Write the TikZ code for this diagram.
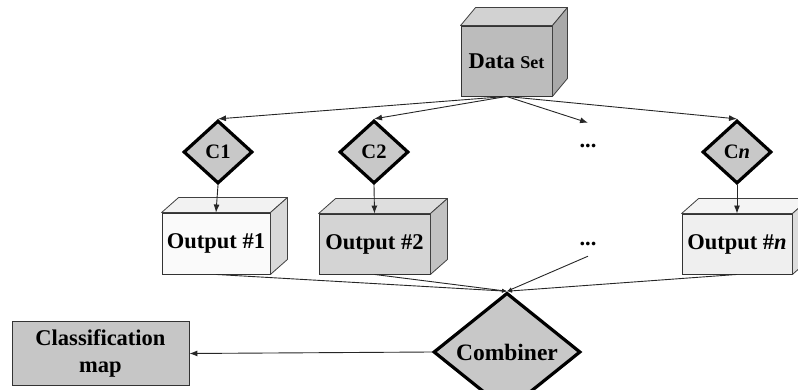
\documentclass[tikz,border=0pt]{standalone}
\usepackage{fontspec}
\setmainfont{Liberation Serif}
\usetikzlibrary{shapes.geometric,arrows.meta}
\definecolor{dsfront}{HTML}{BCBCBC}
\definecolor{dstop}{HTML}{D2D2D2}
\definecolor{dsside}{HTML}{A9A9A9}
\definecolor{oafront}{HTML}{FAFAFA}
\definecolor{oatop}{HTML}{F2F2F2}
\definecolor{oaside}{HTML}{D9D9D9}
\definecolor{obfront}{HTML}{D4D4D4}
\definecolor{obtop}{HTML}{DEDEDE}
\definecolor{obside}{HTML}{C2C2C2}
\definecolor{onfront}{HTML}{EFEFEF}
\definecolor{ontop}{HTML}{F4F4F4}
\definecolor{onside}{HTML}{DDDDDD}
\definecolor{diagray}{HTML}{C8C8C8}
\definecolor{cmgray}{HTML}{C6C6C6}
\newcommand\cubefaces[5]{%
  \draw[facestyle,fill=#4] (#1.north west) -- ([shift={(#2,#3)}]#1.north west) -- ([shift={(#2,#3)}]#1.north east) -- (#1.north east) -- cycle;
  \draw[facestyle,fill=#5] (#1.north east) -- ([shift={(#2,#3)}]#1.north east) -- ([shift={(#2,#3)}]#1.south east) -- (#1.south east) -- cycle;}
\begin{document}
\begin{tikzpicture}[x=1pt,y=-1pt,
  lbl/.style={font=\fontsize{22.5}{27}\selectfont\bfseries},
  front/.style={lbl, draw=black!80, line width=0.9pt, rectangle, inner sep=0pt},
  facestyle/.style={draw=black!75, line width=0.8pt, line join=round},
  dia/.style={font=\fontsize{20.5}{24}\selectfont\bfseries, diamond, draw=black, line width=3.2pt, fill=diagray, inner sep=0pt},
  arr/.style={-{Latex[length=8pt,width=6pt]}, line width=0.9pt, draw=black!85},
  carr/.style={-{Latex[length=5pt,width=4pt]}, line width=0.9pt, draw=black!85},
  dots/.style={lbl, inner sep=0pt}]
\useasboundingbox (0,0) rectangle (798,390);
\clip (0,0) rectangle (798,390);

% Data set cube
\node[front, fill=dsfront, minimum width=91pt, minimum height=70pt] (ds) at (506.5,61) {Data {\fontsize{18}{20}\selectfont Set}};
\cubefaces{ds}{15}{-18}{dstop}{dsside}

% classifiers
\node[dia, minimum width=69pt, minimum height=63pt] (c1) at (218,152) {C1};
\node[dia, minimum width=69pt, minimum height=63pt] (c2) at (374,152) {C2};
\node[dia, minimum width=69pt, minimum height=63pt] (cn) at (737,152) {C\textit{n}};
\node[dots, minimum height=46pt] (d1) at (588,146) {...};

% outputs
\node[front, fill=oafront, minimum width=108pt, minimum height=61pt] (o1) at (216,243.5) {Output \#1};
\cubefaces{o1}{17}{-15}{oatop}{oaside}
\node[front, fill=obfront, minimum width=111pt, minimum height=60pt] (o2) at (374.5,244) {Output \#2};
\cubefaces{o2}{17}{-15}{obtop}{obside}
\node[front, fill=onfront, minimum width=110pt, minimum height=60pt] (on) at (737,244) {Output \#\textit{n}};
\cubefaces{on}{17}{-15}{ontop}{onside}
\node[dots, minimum height=24pt] (d2) at (588,244) {...};

% combiner and map
\node[dia, font=\fontsize{23.5}{27}\selectfont\bfseries, minimum width=147pt, minimum height=71pt] (comb) at (507,352) {Combiner};
\node[front, fill=cmgray, minimum width=177pt, minimum height=64pt, align=center] (cm) at (100.5,353.5) {Classification\\map};

% connectors
\draw[arr] (ds.south) -- (c1.north);
\draw[arr] (ds.south) -- (c2.north);
\draw[arr] (ds.south) -- (d1.north);
\draw[arr] (ds.south) -- (cn.north);
\draw[arr] (c1.south) -- (o1.north);
\draw[arr] (c2.south) -- (o2.north);
\draw[arr] (cn.south) -- (on.north);
\draw[carr] (o1.south) -- (comb.north);
\draw[carr] (o2.south) -- (comb.north);
\draw[carr] (d2.south) -- (comb.north);
\draw[carr] (on.south) -- (comb.north);
\draw[arr] (comb.west) -- (cm.east);
\end{tikzpicture}
\end{document}
